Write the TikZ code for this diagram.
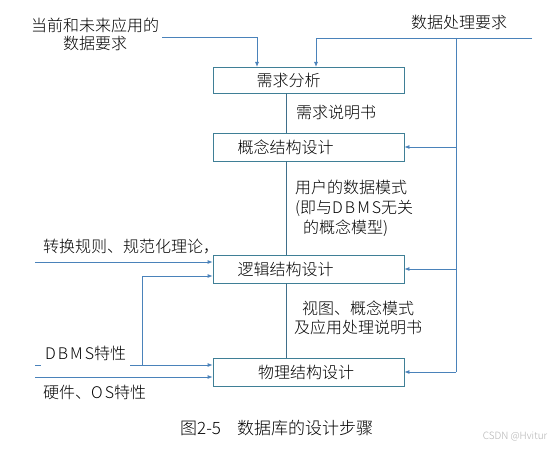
\documentclass[tikz,border=0pt]{standalone}
\usepackage{fontspec}
\setmainfont{Noto Sans CJK SC Light}
\usetikzlibrary{arrows.meta}
\definecolor{linec}{HTML}{4A82BA}
\definecolor{boxc}{HTML}{3F7F96}
\definecolor{spinec}{HTML}{3F6F8A}
\begin{document}
\begin{tikzpicture}[x=1pt,y=-1pt,
  box/.style={draw=boxc, line width=0.8pt, minimum width=191pt, minimum height=28pt, inner sep=0pt},
  ln/.style={draw=linec, line width=0.8pt},
  arr/.style={ln, -{Latex[length=5pt,width=4pt]}},
  spine/.style={draw=spinec, line width=0.8pt},
  lbl/.style={inner sep=0pt, font=\fontsize{16}{20}\selectfont},
  captxt/.style={inner sep=0pt, font=\fontsize{17}{20}\selectfont}]
\fill[white] (0,0) rectangle (553,449);
\useasboundingbox (0,0) rectangle (553,449);
% boxes
\node[box, minimum height=26pt] (b1) at (308.5,80) {};
\node[box] (b2) at (308.5,147) {};
\node[box] (b3) at (308.5,269) {};
\node[box] (b4) at (308.5,372) {};
\node[lbl] (t1) at (288.5,80) {需求分析};
\node[lbl] (t2) at (285.5,147) {概念结构设计};
\node[lbl] (t3) at (285.5,269) {逻辑结构设计};
\node[lbl] (t4) at (306,372) {物理结构设计};
% spine
\coordinate (s) at (286,0);
\draw[spine] (b1.south -| s) -- (b2.north -| s);
\draw[spine] (b2.south -| s) -- (b3.north -| s);
\draw[spine] (b3.south -| s) -- (b4.north -| s);
% top left input
\node[lbl, align=center, font=\fontsize{16}{18}\selectfont] (tl) at (95,34) {当前和未来应用的\\数据要求};
\coordinate (tla) at (162,37);
\coordinate (tlb) at (257,67);
\draw[arr] (tla) -| (tlb);
% top right input
\node[lbl] (tr) at (459,22) {数据处理要求};
\coordinate (tra) at (532,38);
\coordinate (trb) at (316,67);
\coordinate (rs) at (456,38);
\draw[arr] (tra) -| (trb);
\draw[ln] (rs) -- (rs |- b4.east);
\draw[arr] (rs |- b2.east) -- (b2.east);
\draw[arr] (rs |- b3.east) -- (b3.east);
\draw[arr] (rs |- b4.east) -- (b4.east);
% middle labels
\node[lbl] (m1) at (336,112) {需求说明书};
\node[lbl, anchor=west, align=left] (m2) at (295,208) {用户的数据模式\\(即与D\kern2pt B\kern2pt M\kern2pt S无关\\\hspace*{8pt}的概念模型)};
\node[lbl, align=center, font=\fontsize{16}{19}\selectfont] (m3) at (358,318) {视图、概念模式\\及应用处理说明书};
% left inputs
\node[lbl, anchor=west] (l1) at (43,247) {转换规则、规范化理论，};
\coordinate (l1a) at (35,262);
\draw[arr] (l1a) -- (l1a -| b3.west);
\node[lbl, anchor=west] (l2) at (45,353) {D\kern2pt B\kern2pt M\kern2pt S特性};
\coordinate (l2d) at (35,365);
\coordinate (l2e) at (41,365);
\coordinate (l2a) at (130,365);
\coordinate (j) at (142,365);
\coordinate (jt) at (142,276);
\draw[ln] (l2d) -- (l2e);
\draw[arr] (l2a) -- (l2a -| b4.west);
\draw[arr] (j) -- (jt) -- (jt -| b3.west);
\node[lbl, anchor=west] (l3) at (43,392) {硬件、O\kern2pt S特性};
\coordinate (l3a) at (35,377);
\draw[arr] (l3a) -- (l3a -| b4.west);
% caption
\node[captxt, anchor=west] (c) at (180,428) {图2-5\hspace{16pt}数据库的设计步骤};
\node[inner sep=0pt, font=\fontsize{10}{12}\selectfont, text=black!30] (w) at (515,437) {CSDN @Hvitur};
\end{tikzpicture}
\end{document}
